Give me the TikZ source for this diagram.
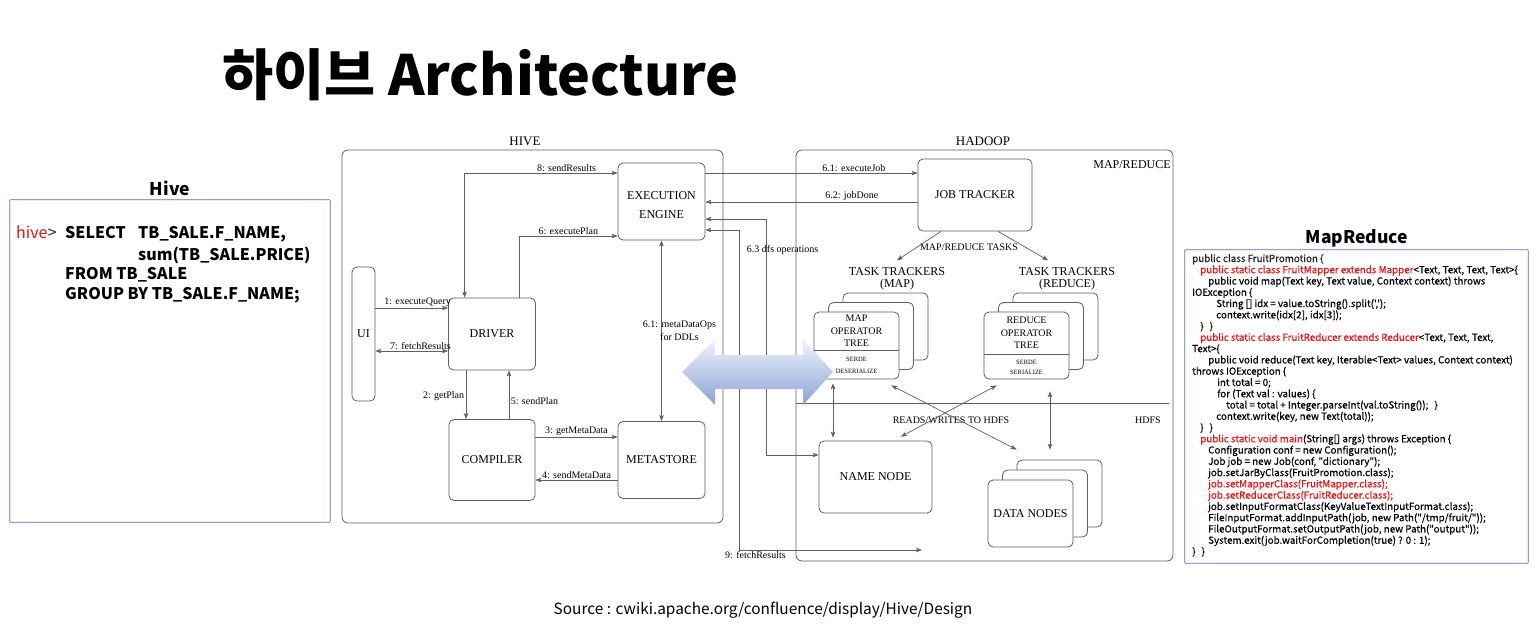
\documentclass[tikz,border=0pt]{standalone}
\usepackage{fontspec}
\setmainfont{Liberation Serif}
\newfontfamily\krfont{Noto Sans CJK KR}
\newfontfamily\codefont{Noto Sans CJK KR}[FakeBold=0.5]
\usetikzlibrary{arrows.meta, positioning, calc}
\definecolor{linegray}{RGB}{95,95,95}
\definecolor{panelblue}{RGB}{85,112,170}
\definecolor{codered}{RGB}{235,20,20}
\definecolor{codeblack}{RGB}{35,35,35}
\definecolor{arrowtop}{RGB}{240,244,251}
\definecolor{arrowbottom}{RGB}{138,163,214}
\newcommand{\rd}[1]{\textcolor{codered}{#1}}

\begin{document}
\begin{tikzpicture}[
        x=1pt, y=-1pt,
        >={Stealth[length=6pt, width=4.5pt, inset=1.5pt]},
        box/.style={
            rectangle,
            rounded corners=5pt,
            draw=linegray,
            line width=0.8pt,
            fill=white,
            inner sep=0pt,
            align=center,
            font=\fontsize{12}{13.5}\selectfont
        },
        frame/.style={rectangle, rounded corners=6pt, draw=linegray, line width=0.8pt, inner sep=0pt},
        conn/.style={draw=linegray, line width=0.7pt},
        lbl/.style={font=\fontsize{10}{12}\selectfont, inner sep=1.5pt},
        big lbl/.style={font=\fontsize{12}{12.5}\selectfont, align=center, inner sep=0pt},
        tree lbl/.style={font=\fontsize{10}{12.5}\selectfont, align=center, inner sep=0pt},
        serde lbl/.style={font=\fontsize{6.5}{11.5}\selectfont, align=center, inner sep=0pt},
        panel/.style={rectangle, inner sep=0pt},
        head/.style={font=\krfont\bfseries\fontsize{17.5}{20}\selectfont, inner sep=0pt},
        sql/.style={font=\krfont\bfseries\fontsize{16}{20}\selectfont, anchor=base west, inner sep=0pt}
    ]
        \fill[white] (0,0) rectangle (1538,630);
        \useasboundingbox (0,0) rectangle (1538,630);

        % --- TITLE ---
        \node[font=\krfont\bfseries\fontsize{55.5}{60}\selectfont, anchor=base west, inner sep=0pt] (title) at (222,95) {하이브 Architecture};

        % --- PANEL FRAMES ---
        \node[panel, minimum width=320pt, minimum height=322pt] (hive panel) at (170,361) {};
        \node[panel, minimum width=343pt, minimum height=313pt] (mr panel) at (1356.5,406.5) {};
        \fill[panelblue, even odd rule]
            ([shift={(-0.4,0.4)}]hive panel.north west) rectangle ([shift={(0.4,-0.4)}]hive panel.south east)
            ([shift={(0.4,-0.4)}]hive panel.north west) rectangle ([shift={(-0.4,0.4)}]hive panel.south east);
        \fill[panelblue, even odd rule]
            ([shift={(-0.4,0.4)}]mr panel.north west) rectangle ([shift={(0.4,-0.4)}]mr panel.south east)
            ([shift={(0.4,-0.4)}]mr panel.north west) rectangle ([shift={(-0.4,0.4)}]mr panel.south east);

        % --- LEFT PANEL: HIVE QUERY ---
        \node[head] (hive head) at (170,188) {Hive};
        \node[sql, font=\krfont\fontsize{16}{20}\selectfont] (prompt) at (16,238) {\textcolor{codered}{hive}};
        \node[sql, font=\krfont\fontsize{16}{20}\selectfont] (prompt sign) at (prompt.base east) {\textcolor{codeblack}{>}};
        \node[sql] (select) at (65,238) {SELECT};
        \node[sql] (col1) at (138,238) {TB\_SALE.F\_NAME,};
        \node[sql] (col2) at (138,260) {sum(TB\_SALE.PRICE)};
        \node[sql] (from) at (65,279) {FROM TB\_SALE};
        \node[sql] (group) at (65,299) {GROUP BY TB\_SALE.F\_NAME;};

        % --- RIGHT PANEL: MAPREDUCE CODE ---
        \node[head] (mr head) at (1357,238) {MapReduce};
        \node[anchor=north west, inner sep=0pt, align=left,
              font=\codefont\fontsize{9.8}{11.27}\selectfont] (mr code) at (1192,254) {%
            \color{codeblack}public class FruitPromotion \{\\
            \hspace*{8pt}\rd{public static class FruitMapper extends Mapper}<Text, Text, Text, Text>\{\\
            \hspace*{16pt}public void map(Text key, Text value, Context context) throws\\
            IOException \{\\
            \hspace*{24pt}String [] idx = value.toString().split(',');\\
            \hspace*{24pt}context.write(idx[2], idx[3]);\\
            \hspace*{8pt}\}\hspace{6pt}\}\\
            \hspace*{8pt}\rd{public static class FruitReducer extends Reducer}<Text, Text, Text,\\
            Text>\{\\
            \hspace*{16pt}public void reduce(Text key, Iterable<Text> values, Context context)\\
            throws IOException \{\\
            \hspace*{25pt}int total = 0;\\
            \hspace*{25pt}for (Text val : values) \{\\
            \hspace*{34pt}total = total + Integer.parseInt(val.toString());\hspace{6pt}\}\\
            \hspace*{24pt}context.write(key, new Text(total));\\
            \hspace*{8pt}\}\hspace{6pt}\}\\
            \hspace*{8pt}\rd{public static void main}(String[] args) throws Exception \{\\
            \hspace*{16pt}Configuration conf = new Configuration();\\
            \hspace*{16pt}Job job = new Job(conf, "dictionary");\\
            \hspace*{16pt}job.setJarByClass(FruitPromotion.class);\\
            \hspace*{16pt}\rd{job.setMapperClass(FruitMapper.class);}\\
            \hspace*{16pt}\rd{job.setReducerClass(FruitReducer.class);}\\
            \hspace*{16pt}job.setInputFormatClass(KeyValueTextInputFormat.class);\\
            \hspace*{16pt}FileInputFormat.addInputPath(job, new Path("/tmp/fruit/"));\\
            \hspace*{16pt}FileOutputFormat.setOutputPath(job, new Path("output"));\\
            \hspace*{16pt}System.exit(job.waitForCompletion(true) ? 0 : 1);\\
            \}\hspace{6pt}\}};

        % --- HIVE SIDE ---
        \node[frame, minimum width=381pt, minimum height=373pt] (hive) at (532.5,336.5) {};
        \node[font=\fontsize{13}{15}\selectfont, inner sep=0pt] (hive title) at (525,141) {HIVE};
        \node[box, minimum width=87pt, minimum height=77pt, font=\fontsize{12}{19}\selectfont] (engine) at (661.5,201.5) {\rule{0pt}{16pt}EXECUTION\\ENGINE};
        \node[box, minimum width=23pt, minimum height=134pt] (ui) at (363.5,334) {UI};
        \node[box, minimum width=87pt, minimum height=72pt] (driver) at (492,334) {DRIVER};
        \node[box, minimum width=86pt, minimum height=81pt] (compiler) at (492,460) {COMPILER};
        \node[box, minimum width=87pt, minimum height=77pt] (metastore) at (661.5,460) {METASTORE};

        % --- HADOOP SIDE ---
        \node[frame, minimum width=377pt, minimum height=411pt] (hadoop) at (984.5,355.5) {};
        \node[font=\fontsize{13}{15}\selectfont, inner sep=0pt] (hadoop title) at (983,141) {HADOOP};
        \node[big lbl] (mr label) at (1132,165) {MAP/REDUCE};
        \node[box, minimum width=114pt, minimum height=72pt] (jobtracker) at (975,195) {JOB TRACKER};
        \node[lbl] (mr tasks) at (969,247) {MAP/REDUCE TASKS};
        \node[big lbl] (tt map) at (897,279) {TASK TRACKERS\\(MAP)};
        \node[big lbl] (tt reduce) at (1067,279) {TASK TRACKERS\\(REDUCE)};

        % map task trackers (stacked)
        \node[box, minimum width=85pt, minimum height=67pt] (map3) at (885.5,326.5) {};
        \node[box, minimum width=85pt, minimum height=67pt] (map2) at (871,336) {};
        \node[box, minimum width=85pt, minimum height=67pt] (map1) at (856.5,345.5) {};
        \draw[linegray, line width=0.8pt] ([yshift=-39pt]map1.north west) -- ([yshift=-39pt]map1.north east);
        \node[tree lbl] (map tree) at ([yshift=-19.5pt]map1.north) {MAP\\OPERATOR\\TREE};
        \node[serde lbl] (map serde) at ([yshift=14pt]map1.south) {SERDE\\DESERIALIZE};

        % reduce task trackers (stacked)
        \node[box, minimum width=85pt, minimum height=67pt] (red3) at (1055.5,326.5) {};
        \node[box, minimum width=85pt, minimum height=67pt] (red2) at (1041,336) {};
        \node[box, minimum width=85pt, minimum height=67pt] (red1) at (1026.5,345.5) {};
        \draw[linegray, line width=0.8pt] ([yshift=-43pt]red1.north west) -- ([yshift=-43pt]red1.north east);
        \node[tree lbl] (red tree) at ([yshift=-21.5pt]red1.north) {REDUCE\\OPERATOR\\TREE};
        \node[serde lbl, font=\fontsize{6.5}{10}\selectfont] (red serde) at ([yshift=12pt]red1.south) {SERDE\\SERIALIZE};

        % HDFS part
        \coordinate (hdfs split) at (0,403);
        \draw[linegray, line width=0.8pt] (hadoop.west |- hdfs split) -- ([xshift=-4pt]hadoop.east |- hdfs split);
        \node[lbl] (hdfs label) at (1148,420) {HDFS};
        \node[lbl] (rw label) at (951,420) {READS/WRITES TO HDFS};
        \node[box, minimum width=113pt, minimum height=72pt] (namenode) at (875.5,477) {NAME NODE};
        \node[box, minimum width=85pt, minimum height=67pt] (dn3) at (1059.5,493.5) {};
        \node[box, minimum width=85pt, minimum height=67pt] (dn2) at (1045,503.5) {};
        \node[box, minimum width=85pt, minimum height=67pt] (dn1) at (1030.5,513.5) {DATA NODES};

        % --- ARROWS INSIDE HIVE ---
        \draw[conn, <->] ([yshift=28.5pt]engine.west) -| ([xshift=16.5pt]driver.north west)
            node[lbl, pos=0.167, above] {8: sendResults};
        \draw[conn, ->] ([xshift=27pt]driver.north) |- ([yshift=-34.5pt]engine.west)
            node[lbl, pos=0.75, above] {6: executePlan};
        \draw[conn, ->] ([yshift=26pt]ui.east) -- ([yshift=26pt]driver.west)
            node[lbl, pos=0.58, above] {1: executeQuery};
        \draw[conn, <->] ([yshift=-17pt]ui.east) -- ([yshift=-17pt]driver.west)
            node[lbl, pos=0.62, above] {7: fetchResults};
        \draw[conn, ->] ([xshift=-26pt]driver.south) -- ([xshift=-26pt]compiler.north)
            node[lbl, pos=0.53, left] {2: getPlan};
        \draw[conn, ->] ([xshift=17pt]compiler.north) -- ([xshift=17pt]driver.south)
            node[lbl, pos=0.37, right] {5: sendPlan};
        \draw[conn, ->] ([yshift=23pt]compiler.east) -- ([yshift=23pt]metastore.west)
            node[lbl, midway, above] {3: getMetaData};
        \draw[conn, ->] ([yshift=-20pt]metastore.west) -- ([yshift=-20pt]compiler.east)
            node[lbl, midway, above] {4: sendMetaData};
        \draw[conn, <->] (engine.south) -- (metastore.north)
            node[lbl, pos=0.5, xshift=18pt, align=center, font=\fontsize{10}{13}\selectfont] {6.1: metaDataOps\\for DDLs};

        % --- ARROWS BETWEEN HIVE AND HADOOP ---
        \coordinate (jt in) at ([yshift=22pt]jobtracker.west);
        \coordinate (jt out) at ([yshift=-7pt]jobtracker.west);
        \coordinate (nn in) at ([yshift=22pt]namenode.west);
        \coordinate (fetch end) at (922,550);
        \draw[conn, ->] (engine.east |- jt in) -- (jt in)
            node[lbl, pos=0.7, above] {6.1: executeJob};
        \draw[conn, ->] (jt out) -- (engine.east |- jt out)
            node[lbl, pos=0.31, above] {6.2: jobDone};
        \draw[conn, <->] ([yshift=-17.5pt]engine.east) -| node[lbl, pos=0.566, xshift=16pt] {6.3 dfs operations}
            ([xshift=-52pt]nn in) -- (nn in);
        \draw[conn, <->] ([yshift=-28.5pt]engine.east) -| ([xshift=-183pt]fetch end)
            -- node[lbl, pos=0.09, below] {9: fetchResults} (fetch end);

        % --- ARROWS INSIDE HADOOP ---
        \draw[conn, ->] ([xshift=-34pt]jobtracker.south) -- ([yshift=7pt]tt map.north);
        \draw[conn, ->] ([xshift=23pt]jobtracker.south) -- ([xshift=-19pt, yshift=7pt]tt reduce.north);
        \draw[conn, <->, shorten <=4pt, shorten >=3pt] ([xshift=-23.5pt]map1.south) -- ([xshift=-23.5pt]map1.south |- namenode.north);
        \draw[conn, <->] ([xshift=-8pt, yshift=-6pt]map1.south east) -- ([yshift=10pt]dn3.north west);
        \draw[conn, <->] ([xshift=13pt, yshift=-6pt]red1.south west) -- ([xshift=25.5pt, yshift=4pt]namenode.north);
        \draw[conn, <->, shorten <=12pt, shorten >=10pt] ([xshift=23.5pt]red1.south) -- ([xshift=23.5pt]red1.south |- dn3.north);

        % --- BIG DOUBLE ARROW (Hive <-> Hadoop) ---
        \shade[top color=arrowtop, bottom color=arrowbottom]
            (682,372) -- (715,339) -- (715,355) -- (803,355) -- (803,339) -- (833,372)
            -- (803,405) -- (803,389) -- (715,389) -- (715,405) -- cycle;

        % --- SOURCE ---
        \node[font=\krfont\fontsize{15.4}{18}\selectfont, inner sep=0pt] (source) at (763,610) {Source : cwiki.apache.org/confluence/display/Hive/Design};

    \end{tikzpicture}
\end{document}
